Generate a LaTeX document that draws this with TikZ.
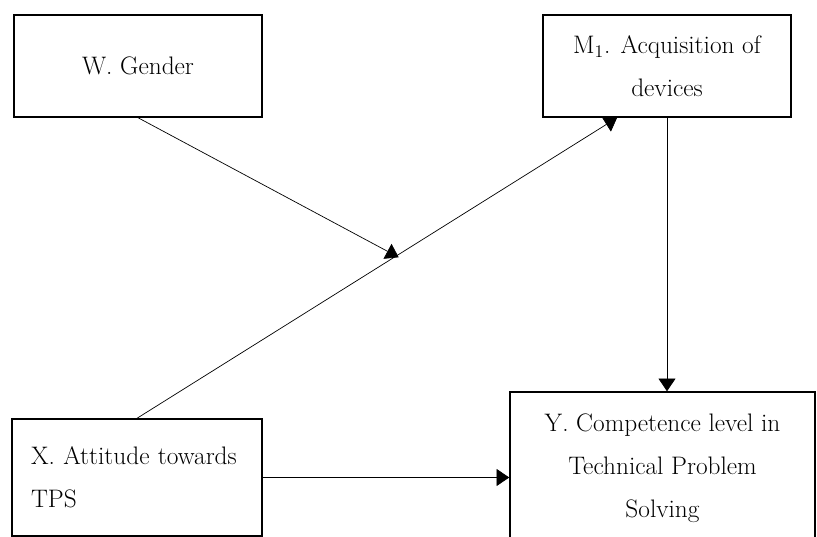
\documentclass[tikz,border=0pt]{standalone}
\usepackage{amsmath}
\usepackage{tikz}
\usetikzlibrary{arrows.meta,calc}

\begin{document}
\begin{tikzpicture}[x=0.025cm, y=-0.025cm, >={Triangle[length=9pt,width=12pt]},
    varbox/.style={draw, line width=1pt, inner sep=0pt, font=\fontsize{18}{30.5}\selectfont}]

        % Page frame
        \useasboundingbox (0,0) rectangle (817,537);

        % Variables
        \node[varbox, minimum width=248*0.025cm, minimum height=102*0.025cm] (W) at (138,66) {W. Gender};
        \node[varbox, minimum width=248*0.025cm, minimum height=102*0.025cm, align=center] (M) at (667,66)
              {M\textsubscript{1}. Acquisition of\\devices};
        \node[varbox, minimum width=250*0.025cm, minimum height=117*0.025cm, text width=212*0.025cm, align=left] (X) at (137,477.5)
              {X. Attitude towards\\TPS};
        \node[varbox, minimum width=305*0.025cm, minimum height=152*0.025cm, align=center] (Y) at (662.5,468)
              {Y. Competence level in\\Technical Problem\\Solving};

        % Paths
        \draw[->, line width=0.5pt] (X.north) -- coordinate[pos=0.545] (XM) ($(M.south west)!0.3!(M.south east)$);
        \draw[->, line width=0.5pt] (W.south) -- ([yshift=-2pt]XM);
        \draw[->, line width=0.5pt] (M.south) -- (M.south |- Y.north);
        \draw[->, line width=0.5pt] (X.east) -- (X.east -| Y.west);

      \end{tikzpicture}
\end{document}
